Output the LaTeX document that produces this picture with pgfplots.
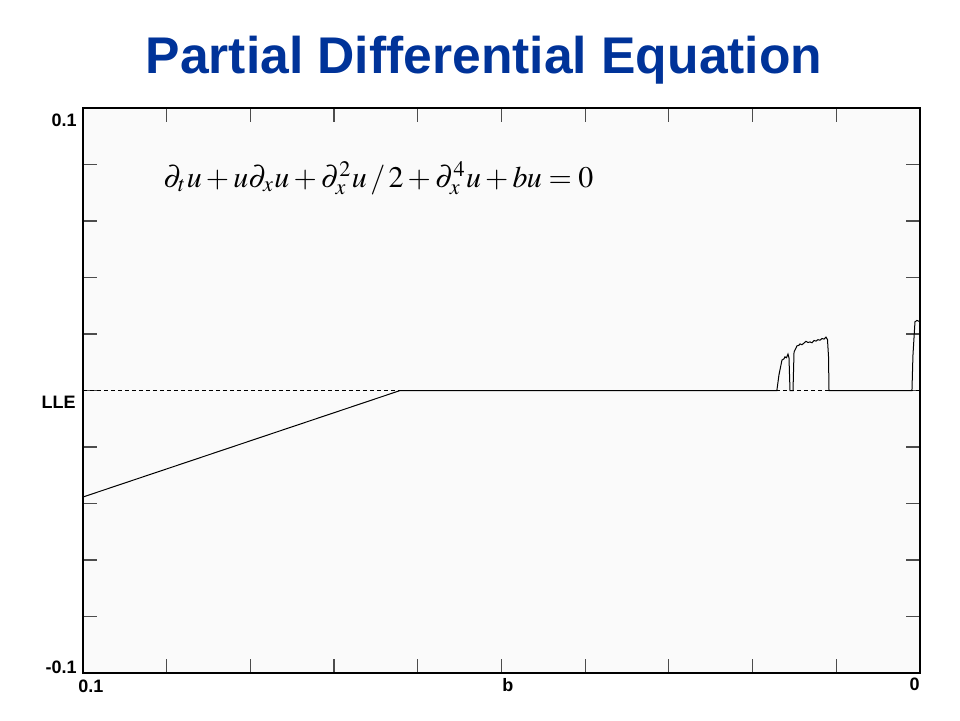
\documentclass[border=0pt]{standalone}
\usepackage{mathptmx}
\usepackage{fontspec}
\setmainfont{Liberation Sans}
\usepackage{graphicx}
\usepackage{pgfplots}
\pgfplotsset{compat=1.18}
\definecolor{titleblue}{RGB}{0,51,153}

\begin{document}
\begin{tikzpicture}
\path[fill=white] (0,0) rectangle (480pt,360pt);
\node[anchor=base, text=titleblue, inner sep=0pt, font=\fontsize{25.8}{30}\selectfont\bfseries]
  at (242pt,323.5pt) {Partial Differential Equation};
\begin{axis}[
  at={(41.5pt,23.5pt)}, anchor=south west,
  width=418.5pt, height=282.5pt, scale only axis,
  xmin=0, xmax=0.1, x dir=reverse,
  ymin=-0.1, ymax=0.1,
  xtick={0,0.01,0.02,0.03,0.04,0.05,0.06,0.07,0.08,0.09,0.1},
  ytick={-0.1,-0.08,-0.06,-0.04,-0.02,0,0.02,0.04,0.06,0.08,0.1},
  xticklabels={}, yticklabels={},
  tick align=inside, major tick length=7pt,
  tick style={black!70, line width=0.6pt},
  axis line style={black, line width=0.6pt},
  axis background/.style={fill=black!2},
  clip=false
]
% zero reference line
\addplot[black, line width=0.4pt, dash pattern=on 2pt off 1.5pt] coordinates {(0.1,0) (0,0)};
% largest Lyapunov exponent versus b
\addplot[black, line width=0.5pt] coordinates {
(0.1,-0.0377) (0.0621,0) (0.0171,0)
(0.01685,0.0055) (0.01649,0.0108) (0.01625,0.0112) (0.01613,0.0119)
(0.01595,0.0116) (0.01577,0.0129) (0.01565,0.0115) (0.01553,0)
(0.01517,0)
(0.01505,0.0136) (0.01482,0.0150) (0.01470,0.0158) (0.01446,0.0160)
(0.01434,0.0165) (0.01410,0.0162) (0.01386,0.0168) (0.01362,0.0174)
(0.01338,0.0170) (0.01314,0.0172) (0.01290,0.0169) (0.01266,0.0177)
(0.01242,0.0175) (0.01219,0.0180) (0.01195,0.0178) (0.01171,0.0184)
(0.01147,0.0182) (0.01123,0.0189) (0.01105,0.0180) (0.01093,0.0120)
(0.01087,0)
(0.00096,0)
(0.00084,0.0125) (0.00060,0.0243) (0.00036,0.0248) (0.00012,0.0245)
(0,0.0246)
};
\end{axis}
\begin{scope}[every node/.style={inner sep=0pt, font=\fontsize{9}{10}\selectfont\bfseries}]
\node[anchor=north east] at (38.5pt,303pt) {0.1};
\node[anchor=north east] at (38pt,162pt) {LLE};
\node[anchor=base east] at (38.5pt,23.5pt) {-0.1};
\node[anchor=north west] at (39pt,20pt) {0.1};
\node[anchor=north west] at (251pt,21pt) {b};
\node[anchor=north east] at (460pt,21pt) {0};
\end{scope}
\node[anchor=base west, inner sep=0pt] at (81.5pt,266.5pt)
  {\resizebox{215pt}{!}{$\partial_{t\vphantom{x}} u + u\partial_x u + \partial_x^2 u\,/\,2 + \partial_x^4 u + bu = 0$}};
\end{tikzpicture}
\end{document}
